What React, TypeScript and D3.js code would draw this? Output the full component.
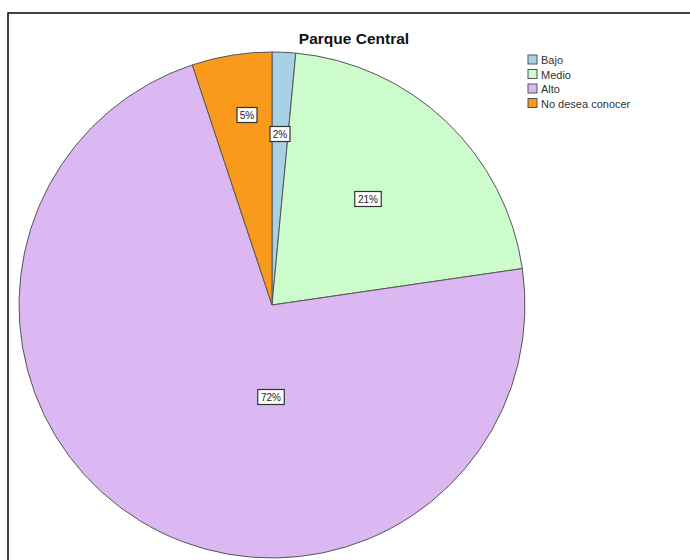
import React from "react";
import * as d3 from "d3";

const categories = ["Bajo", "Medio", "Alto", "No desea conocer"];
const values = [1.5, 21.2, 72.2, 5.1];
const labels = ["2%", "21%", "72%", "5%"];
const colors = ["#a9d1e6", "#ccfccc", "#dcb8f2", "#fa9a1c"];
const title = "Parque Central";

export default function App() {
  const W = 690, H = 560;
  const cx = 272, cy = 305, r = 253;
  const pie = d3.pie<number>().value((d) => d).sort(null);
  const arcs = pie(values);
  const arc = d3.arc<d3.PieArcDatum<number>>().innerRadius(0).outerRadius(r);
  const labelPos: [number, number][] = [
    [280, 134],
    [368, 199],
    [271, 397],
    [247, 115],
  ];
  const font = "Liberation Sans, Arial, sans-serif";
  return (
    <svg width={W} height={H} style={{ position: "absolute", left: 0, top: 0, background: "#fff" }}>
      <rect x={8} y={13} width={W + 10} height={H + 10} fill="#fff" stroke="#000" strokeWidth={1.5} />
      <text x={354} y={44} textAnchor="middle" fontFamily={font} fontWeight="bold" fontSize={15.5} fill="#111">
        {title}
      </text>
      <g transform={`translate(${cx},${cy})`}>
        {arcs.map((a, i) => (
          <path key={i} d={arc(a) || ""} fill={colors[i]} stroke="#555" strokeWidth={1} />
        ))}
      </g>
      {labels.map((l, i) => {
        const [x, y] = labelPos[i];
        const w = l.length * 6.5 + 7;
        return (
          <g key={i}>
            <rect x={x - w / 2} y={y - 7.5} width={w} height={15} fill="#fff" stroke="#333" strokeWidth={1.2} />
            <text x={x} y={y + 3.5} textAnchor="middle" fontFamily={font} fontSize={10} fill="#222">
              {l}
            </text>
          </g>
        );
      })}
      {categories.map((c, i) => (
        <g key={c} transform={`translate(528,${55 + i * 14.5})`}>
          <rect x={0} y={0} width={9} height={9} fill={colors[i]} stroke="#555" strokeWidth={1} />
          <text x={13} y={9} fontFamily={font} fontSize={11} fill="#333">
            {c}
          </text>
        </g>
      ))}
    </svg>
  );
}
